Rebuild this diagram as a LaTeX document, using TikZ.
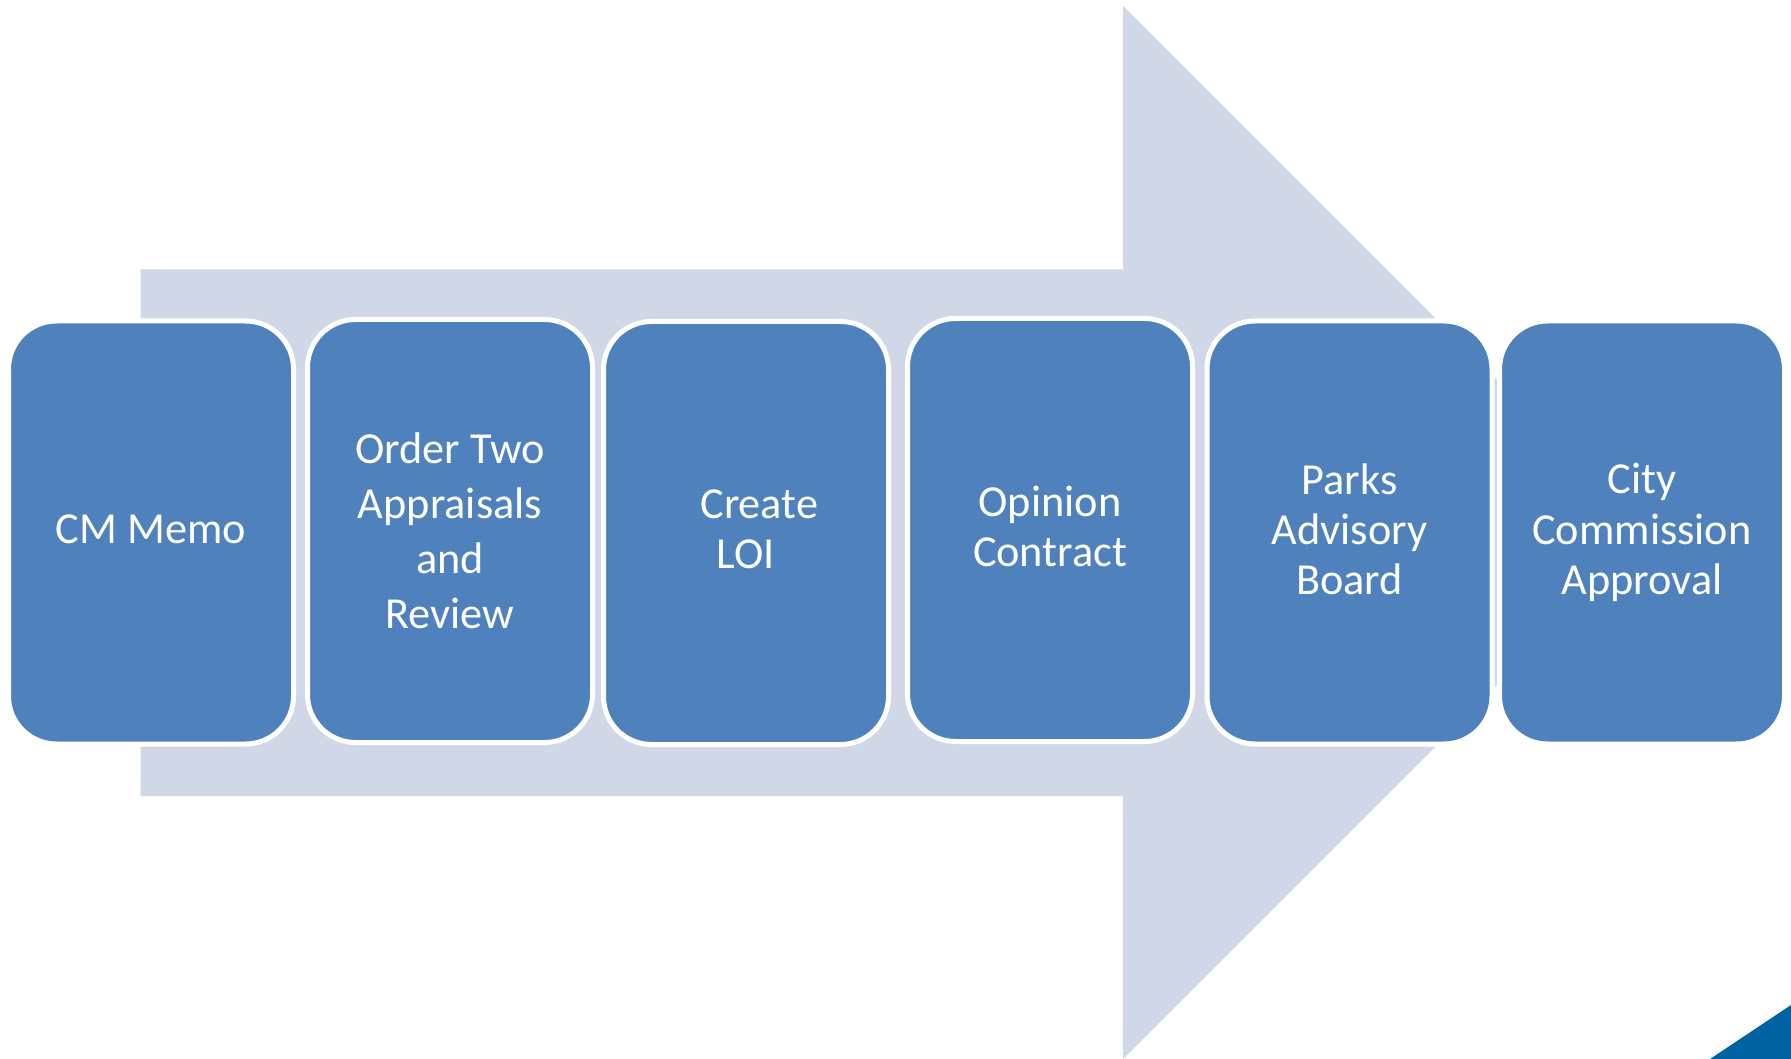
\documentclass[tikz,border=0pt]{standalone}
\usepackage{fontspec}
\setmainfont{Carlito}
\definecolor{boxblue}{RGB}{79,129,189}
\definecolor{arrowfill}{RGB}{208,216,232}
\definecolor{cornerblue}{RGB}{0,98,160}
\begin{document}
\begin{tikzpicture}[x=0.1mm,y=-0.1mm,
  stepbox/.style={rectangle, rounded corners=4.8mm, minimum width=28.5mm, minimum height=42.3mm,
    inner sep=0pt, fill=boxblue, draw=white, line width=0.5mm, text=white, align=center,
    font=\fontsize{12.6}{14.3}\selectfont},
  lifted/.style={text depth=2pt}]
\useasboundingbox (0,0) rectangle (1791,1059);
% big background arrow
\fill[arrowfill] (140.5,269.5) -- (1123,269.5) -- (1123,6) -- (1649.5,532.5)
  -- (1123,1059) -- (1123,796) -- (140.5,796) -- cycle;
% corner triangle
\fill[cornerblue] (1710,1059) -- (1791,1005) -- (1791,1059) -- cycle;
% steps
\node[stepbox, lifted] (s1) at (151,532.5) {CM Memo};
\node[stepbox, font=\fontsize{12.6}{15.6}\selectfont] (s2) at (450,531) {Order Two\\Appraisals\\and\\Review};
\node[stepbox, lifted] (s3) at (746,533) {\hspace*{0.6em}Create\\LOI};
\node[stepbox, lifted] (s4) at (1050,530) {Opinion\\Contract};
\node[stepbox, lifted] (s5) at (1349.5,532.5) {Parks\\Advisory\\Board};
\node[stepbox] (s6) at (1642,532.5) {City\\Commission\\Approval};
\end{tikzpicture}
\end{document}
